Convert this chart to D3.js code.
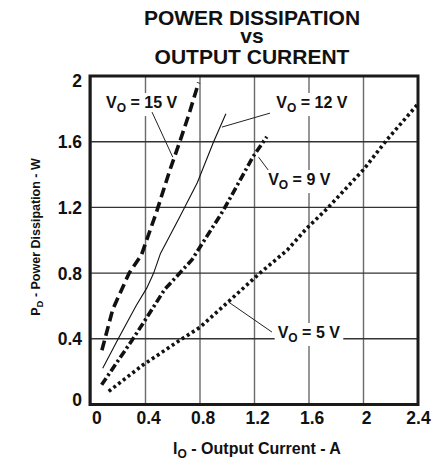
<!DOCTYPE html>
<html>
<head>
<meta charset="utf-8">
<script src="https://cdn.jsdelivr.net/npm/d3@7"></script>
<style>
  body { margin: 0; background: #fff; }
  svg text { font-family: "Liberation Sans", Arial, sans-serif; font-weight: bold; fill: #111; }
</style>
</head>
<body>
<div id="figure-holder"></div>
<script>
// tick values
const xTicks = [0, 0.4, 0.8, 1.2, 1.6, 2, 2.4];
const yTicks = [0, 0.4, 0.8, 1.2, 1.6, 2];

// curves (I_O in A, P_D in W)
const io15 = [0.08, 0.16, 0.28, 0.37, 0.48, 0.58, 0.66, 0.72, 0.79];
const pd15 = [0.33, 0.58, 0.80, 0.91, 1.17, 1.43, 1.62, 1.77, 1.96];

const io12 = [0.086, 0.20, 0.33, 0.41, 0.46, 0.51, 0.65, 0.78, 0.90, 0.99];
const pd12 = [0.22, 0.40, 0.60, 0.71, 0.80, 0.92, 1.14, 1.35, 1.60, 1.77];

const io9 = [0.078, 0.30, 0.41, 0.54, 0.74, 0.97, 1.19, 1.29];
const pd9 = [0.12, 0.39, 0.53, 0.70, 0.88, 1.18, 1.51, 1.63];

const io5 = [0.13, 0.38, 0.65, 0.80, 1.00, 1.24, 1.44, 1.58, 1.73, 2.00, 2.17, 2.40];
const pd5 = [0.08, 0.24, 0.39, 0.47, 0.62, 0.80, 0.94, 1.07, 1.19, 1.43, 1.61, 1.83];

// label text voltage, label anchor (data units), leader line from -> to (data units)
const labelVolts = ['15', '12', '9', '5'];
const labelPos = [[0.11, 1.805], [1.36, 1.805], [1.30, 1.336], [1.37, 0.405]];
const leaders = [
    [[0.448, 1.78], [0.60, 1.506]],
    [[1.314, 1.774], [0.961, 1.689]],
    [[1.30, 1.428], [1.23, 1.506]],
    [[1.328, 0.441], [1.009, 0.624]]
];

const W = 446, H = 461;
const plotL = 91, plotR = 418, plotT = 76, plotB = 404.5;

const svg = d3.select('#figure-holder').append('svg')
    .attr('width', W)
    .attr('height', H);

const x = d3.scaleLinear().domain([0, 2.4]).range([plotL, plotR]);
const y = d3.scaleLinear().domain([0, 2]).range([plotB, plotT]);

// title, one text element with a tspan per line
const title = ['POWER DISSIPATION', 'vs', 'OUTPUT CURRENT'];
const titleY = [25, 43, 64];
svg.append('text')
    .attr('text-anchor', 'middle')
    .style('font-size', '21px')
    .selectAll('tspan')
    .data(title)
    .join('tspan')
    .attr('x', 252)
    .attr('y', (d, i) => titleY[i])
    .text(d => d);

// vertical grid
svg.append('g')
    .selectAll('line')
    .data(xTicks)
    .join('line')
    .attr('x1', d => x(d)).attr('x2', d => x(d))
    .attr('y1', plotT).attr('y2', plotB)
    .attr('stroke', '#6a6a6a')
    .attr('stroke-width', 1.4);

// horizontal grid
svg.append('g')
    .selectAll('line')
    .data(yTicks)
    .join('line')
    .attr('x1', plotL).attr('x2', plotR)
    .attr('y1', d => y(d)).attr('y2', d => y(d))
    .attr('stroke', '#333')
    .attr('stroke-width', 1.4);

// y axis labels
const yAxis = svg.append('g')
    .attr('id', 'y-axis')
    .attr('transform', `translate(${plotL}, 0)`)
    .call(d3.axisLeft(y).tickValues(yTicks).tickSize(0).tickPadding(9).tickFormat(d => d));
yAxis.select('.domain').remove();
yAxis.selectAll('text')
    .style('font-size', '17.5px')
    .attr('fill', '#111')
    .attr('dy', d => d === 2 ? '0.62em' : d === 0 ? '0.05em' : '0.35em');

// x axis labels
const xAxis = svg.append('g')
    .attr('id', 'x-axis')
    .attr('transform', `translate(0, ${plotB})`)
    .call(d3.axisBottom(x).tickValues(xTicks).tickSize(0).tickPadding(7).tickFormat(d => d));
xAxis.select('.domain').remove();
xAxis.selectAll('text')
    .style('font-size', '17.5px')
    .attr('fill', '#111')
    .attr('dx', d => d === 2.4 ? '0' : d === 0 ? '0.3em' : '0.15em');

// axis titles
const xTitle = svg.append('text')
    .attr('x', 257)
    .attr('y', 454)
    .attr('text-anchor', 'middle')
    .style('font-size', '16px');
xTitle.append('tspan').text('I');
xTitle.append('tspan').text('O').style('font-size', '12px').attr('dy', 3.5);
xTitle.append('tspan').text(' - Output Current - A').attr('dy', -3.5);

const yTitle = svg.append('text')
    .attr('transform', 'translate(40, 237) rotate(-90)')
    .attr('text-anchor', 'middle')
    .style('font-size', '12.5px');
yTitle.append('tspan').text('P');
yTitle.append('tspan').text('D').style('font-size', '9.5px').attr('dy', 3);
yTitle.append('tspan').text(' - Power Dissipation - W').attr('dy', -3);

// label backgrounds go under the curves
const bgLayer = svg.append('g');

// curves
const line = d3.line().x(d => x(d[0])).y(d => y(d[1]));
const curves = [
    { xs: io15, ys: pd15, width: 3.6, dash: '10,5' },
    { xs: io12, ys: pd12, width: 1.1, dash: null },
    { xs: io9, ys: pd9, width: 3.6, dash: '8,3,2.5,3' },
    { xs: io5, ys: pd5, width: 3.6, dash: '3,3' }
];
svg.append('g')
    .selectAll('path')
    .data(curves)
    .join('path')
    .attr('d', d => line(d.xs.map((v, i) => [v, d.ys[i]])))
    .attr('fill', 'none')
    .attr('stroke', '#111')
    .attr('stroke-width', d => d.width)
    .attr('stroke-dasharray', d => d.dash);

// leader lines
svg.append('g')
    .selectAll('line')
    .data(leaders)
    .join('line')
    .attr('x1', d => x(d[0][0])).attr('y1', d => y(d[0][1]))
    .attr('x2', d => x(d[1][0])).attr('y2', d => y(d[1][1]))
    .attr('stroke', '#222')
    .attr('stroke-width', 1);

// curve labels
labelVolts.forEach((v, i) => {
    const t = svg.append('text')
        .attr('x', x(labelPos[i][0]))
        .attr('y', y(labelPos[i][1]))
        .style('font-size', '16px');
    t.append('tspan').text('V');
    t.append('tspan').text('O').style('font-size', '12px').attr('dy', 4);
    t.append('tspan').text(` = ${v} V`).attr('dy', -4);
    const b = t.node().getBBox();
    bgLayer.append('rect')
        .attr('x', b.x - 3).attr('y', b.y - 1)
        .attr('width', b.width + 6).attr('height', b.height + 2)
        .attr('fill', '#fff');
});

// frame
svg.append('rect')
    .attr('x', plotL - 1).attr('y', plotT)
    .attr('width', plotR - plotL + 1).attr('height', plotB - plotT)
    .attr('fill', 'none')
    .attr('stroke', '#1a1a1a')
    .attr('stroke-width', 3);
</script>
</body>
</html>
